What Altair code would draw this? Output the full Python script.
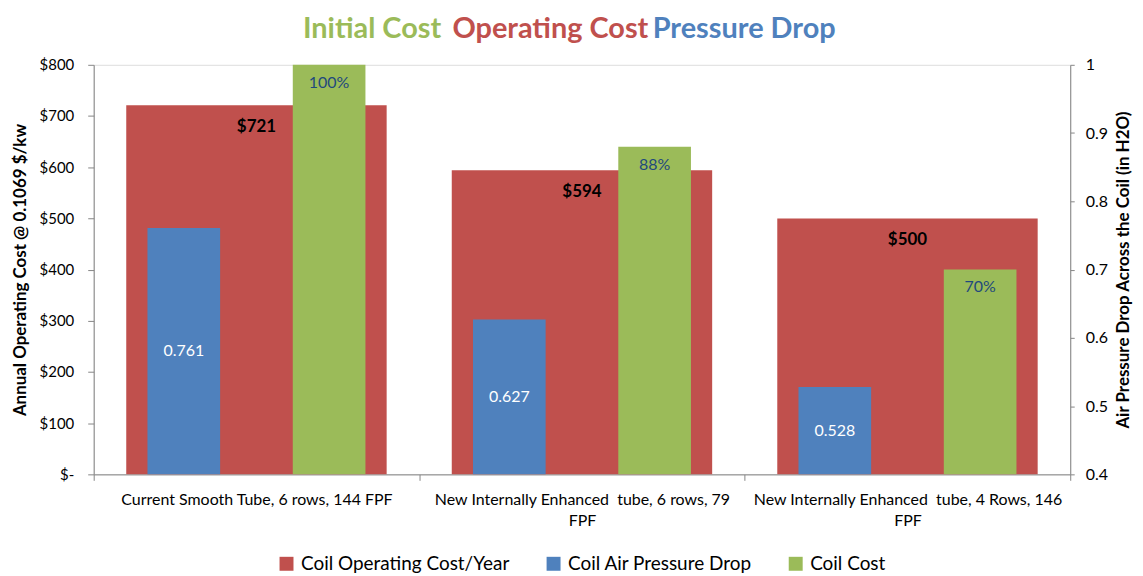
import altair as alt
import pandas as pd

categories = [
    "Current Smooth Tube, 6 rows, 144 FPF",
    "New Internally Enhanced  tube, 6 rows, 79 FPF",
    "New Internally Enhanced  tube, 4 Rows, 146 FPF",
]
category_lines = [
    ["Current Smooth Tube, 6 rows, 144 FPF"],
    ["New Internally Enhanced\u00a0 tube, 6 rows, 79", "FPF"],
    ["New Internally Enhanced\u00a0 tube, 4 Rows, 146", "FPF"],
]
operating_cost = [721, 594, 500]
pressure_drop = [0.761, 0.627, 0.528]
coil_cost = [1.00, 0.88, 0.70]

series_names = ["Coil Operating Cost/Year", "Coil Air Pressure Drop", "Coil Cost"]
series_colors = ["#C0504D", "#4F81BD", "#9BBB59"]

title_parts = ["Initial Cost", "Operating Cost", "Pressure Drop"]
title_colors = ["#9BBB59", "#C0504D", "#4F81BD"]
title_starts = [210, 360, 561]

left_ticks = [0, 100, 200, 300, 400, 500, 600, 700, 800]
right_ticks = [0.4, 0.5, 0.6, 0.7, 0.8, 0.9, 1.0]

FONT = "Lato"
GRAY = "#868686"

df_cost = pd.DataFrame({
    "category": categories,
    "cost": operating_cost,
    "series": series_names[0],
})
df_right = pd.DataFrame({
    "category": categories * 2,
    "series": [series_names[1]] * 3 + [series_names[2]] * 3,
    "value": pressure_drop + coil_cost,
})
df_blue = df_right[df_right["series"] == series_names[1]]
df_green = df_right[df_right["series"] == series_names[2]]


def q(s):
    return "'" + s.replace("'", "\\'") + "'"


label_expr = "datum.label"
for cat, lines in zip(categories[::-1], category_lines[::-1]):
    arr = "[" + ",".join(q(l) for l in lines) + "]"
    label_expr = f"datum.label == {q(cat)} ? {arr} : ({label_expr})"

x_enc = alt.X(
    "category:N",
    sort=categories,
    scale=alt.Scale(domain=categories, paddingInner=0, paddingOuter=0),
    axis=alt.Axis(
        title=None, labelExpr=label_expr, labelAngle=0, labelFontSize=16,
        labelFont=FONT, labelColor="#000000", labelLimit=400, tickBand="extent",
        tickSize=6, tickColor=GRAY, domainColor=GRAY, labelPadding=11,
        labelLineHeight=21, labelBaseline="top",
    ),
)

color_scale = alt.Scale(domain=series_names, range=series_colors)
legend = alt.Legend(
    orient="none", legendX=184, legendY=491, direction="horizontal", title=None,
    symbolType="square", symbolSize=196, symbolStrokeWidth=0, labelFontSize=19,
    labelFont=FONT, labelColor="#000000", columnPadding=34, labelOffset=5,
    labelLimit=400,
)

left_axis = alt.Axis(
    orient="left", values=left_ticks, grid=False,
    labelExpr="datum.value == 0 ? '$-' : '$' + datum.value",
    title="Annual Operating Cost @ 0.1069 $/kw", titleFont=FONT,
    titleFontSize=17, titleFontWeight="bold", titleColor="#000000",
    titlePadding=10, labelFont=FONT, labelFontSize=15, labelColor="#000000",
    labelPadding=14, tickSize=6, tickColor=GRAY, domainColor=GRAY,
)
right_axis = alt.Axis(
    orient="right", values=right_ticks, grid=False, format=".1~f",
    title="Air Pressure Drop Across the Coil (in H2O)", titleFont=FONT,
    titleFontSize=17, titleFontWeight="bold", titleColor="#000000",
    titleAngle=270, titleBaseline="top",
    titlePadding=8, labelFont=FONT, labelFontSize=16, labelColor="#000000",
    labelPadding=11, tickSize=4, tickColor=GRAY, domainColor=GRAY,
)
left_scale = alt.Scale(domain=[0, 800], nice=False)
right_scale = alt.Scale(domain=[0.4, 1.0], zero=False, nice=False)

red_bars = alt.Chart(df_cost).mark_bar(width=alt.RelativeBandSize(0.8)).encode(
    x=x_enc,
    y=alt.Y("cost:Q", scale=left_scale, axis=left_axis),
    color=alt.Color("series:N", scale=color_scale, legend=legend),
)
red_text = alt.Chart(df_cost).mark_text(
    font=FONT, fontSize=17, fontWeight="bold", color="#000000", dy=22, baseline="middle"
).encode(
    x=x_enc,
    y=alt.Y("cost:Q", scale=left_scale, axis=left_axis),
    text=alt.Text("cost:Q", format="$.0f"),
)

title_layers = []
for part, col, sx in zip(title_parts, title_colors, title_starts):
    title_layers.append(
        alt.Chart(pd.DataFrame({"t": [part]})).mark_text(
            font=FONT, fontSize=29, fontWeight="bold", color=col, baseline="middle", align="left"
        ).encode(x=alt.value(sx), y=alt.value(-36), text="t:N")
    )

left_layer = alt.layer(red_bars, red_text, *title_layers)

xoff = alt.XOffset(
    "series:N", sort=series_names[1:],
    scale=alt.Scale(domain=series_names[1:], paddingInner=0.5, paddingOuter=0.37),
)
right_bars = alt.Chart(df_right).mark_bar().encode(
    x=x_enc,
    xOffset=xoff,
    y=alt.Y("value:Q", scale=right_scale, axis=right_axis),
    y2=alt.datum(0.4),
    color=alt.Color("series:N", scale=color_scale, legend=legend),
)
blue_text = alt.Chart(df_blue).transform_calculate(
    mid="(datum.value + 0.4) / 2"
).mark_text(font=FONT, fontSize=16, color="#FFFFFF", baseline="middle").encode(
    x=x_enc,
    xOffset=xoff,
    y=alt.Y("mid:Q", scale=right_scale, axis=right_axis),
    text=alt.Text("value:Q", format=".3f"),
)
green_text = alt.Chart(df_green).mark_text(
    font=FONT, fontSize=16, color="#1F497D", baseline="middle", dy=18
).encode(
    x=x_enc,
    xOffset=xoff,
    y=alt.Y("value:Q", scale=right_scale, axis=right_axis),
    text=alt.Text("value:Q", format=".0%"),
)
right_layer = alt.layer(right_bars, blue_text, green_text)

chart = alt.layer(left_layer, right_layer).resolve_scale(y="independent").properties(
    width=980, height=411,
    padding={"left": 3, "right": 3, "top": 6, "bottom": 0},
).configure_view(stroke=None).configure(background="#FFFFFF")

chart.save("out.html", embed_options={"renderer": "svg", "actions": False})
